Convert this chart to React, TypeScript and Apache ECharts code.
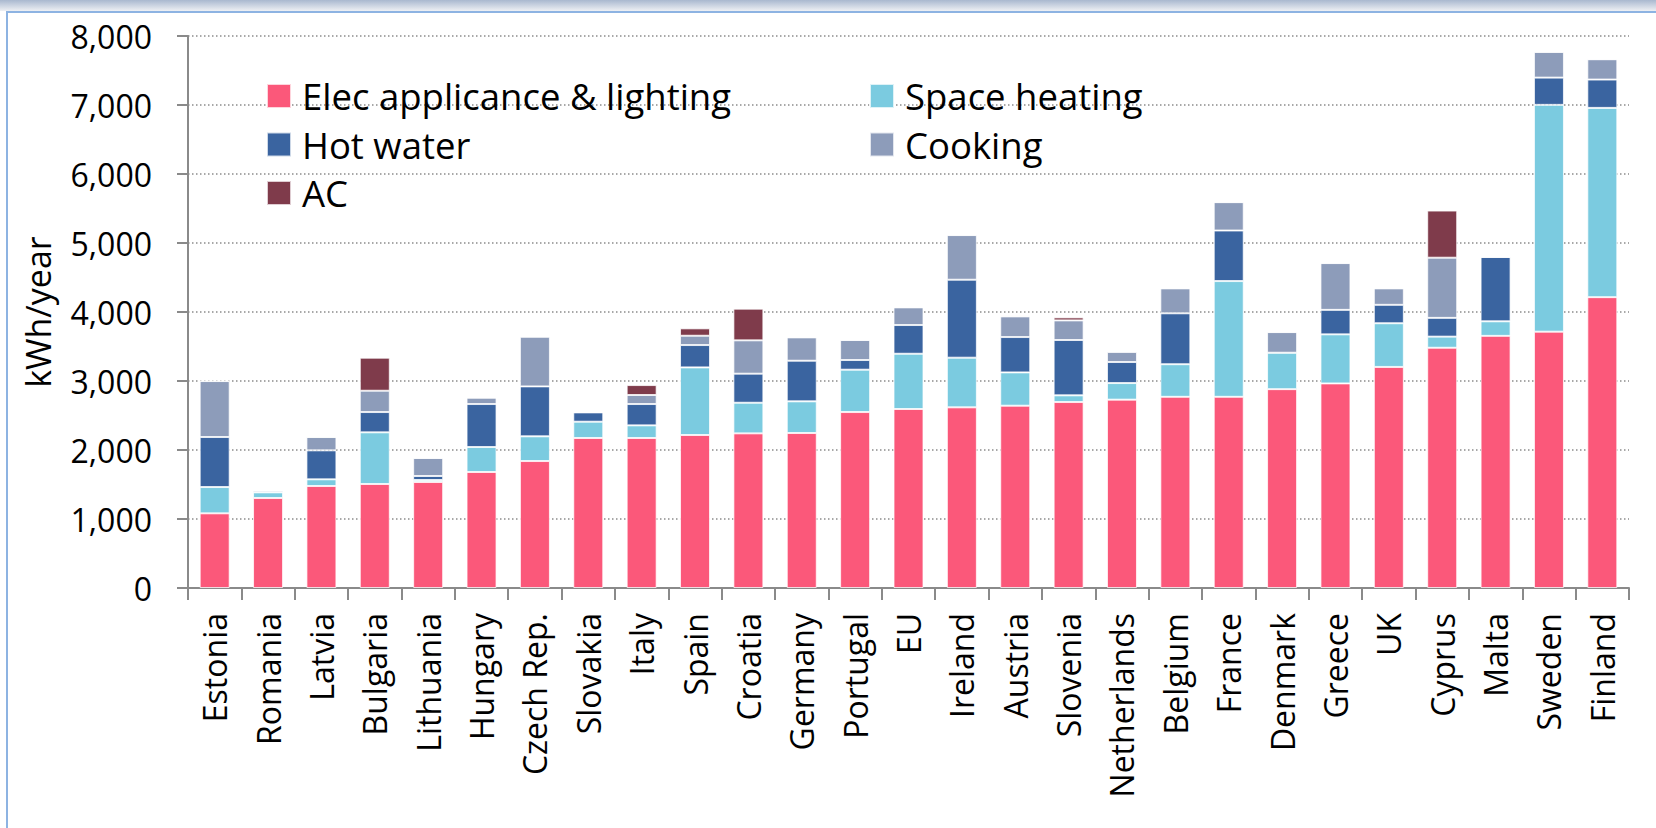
import React, { useEffect, useRef } from "react";
import * as echarts from "echarts";

const categories = [
  "Estonia", "Romania", "Latvia", "Bulgaria", "Lithuania", "Hungary", "Czech Rep.",
  "Slovakia", "Italy", "Spain", "Croatia", "Germany", "Portugal", "EU", "Ireland",
  "Austria", "Slovenia", "Netherlands", "Belgium", "France", "Denmark", "Greece",
  "UK", "Cyprus", "Malta", "Sweden", "Finland",
];

const elecLighting = [1082, 1304, 1478, 1507, 1536, 1681, 1840, 2174, 2174, 2217, 2241, 2246, 2550, 2594, 2618, 2642, 2695, 2730, 2771, 2771, 2882, 2965, 3204, 3482, 3654, 3715, 4215];
const spaceHeating = [381, 82, 97, 749, 29, 362, 358, 236, 183, 980, 444, 459, 614, 801, 720, 483, 97, 240, 472, 1677, 528, 711, 633, 161, 211, 3287, 2743];
const hotWater = [725, 24, 420, 294, 58, 623, 724, 135, 309, 324, 421, 589, 140, 416, 1130, 512, 802, 305, 738, 733, 0, 355, 267, 272, 933, 395, 411];
const cooking = [811, 0, 193, 309, 261, 92, 720, 0, 131, 135, 483, 338, 290, 256, 647, 299, 284, 145, 361, 411, 299, 678, 238, 872, 0, 372, 294];
const ac = [0, 0, 0, 479, 0, 0, 0, 0, 144, 107, 459, 0, 0, 0, 0, 15, 44, 15, 0, 0, 0, 0, 0, 683, 0, 0, 0];

const seriesNames = ["Elec applicance & lighting", "Space heating", "Hot water", "Cooking", "AC"];
const seriesColors = ["#FB587A", "#7BCBE0", "#3A64A0", "#8D9CBA", "#7F3B4B"];
const seriesValues = [elecLighting, spaceHeating, hotWater, cooking, ac];

const yTicks = { min: 0, max: 8000, interval: 1000 };
const yAxisName = "kWh/year";

const FONT = "'Open Sans', sans-serif";

export default function App() {
  const ref = useRef<HTMLDivElement>(null);

  useEffect(() => {
    if (!ref.current) return;
    const chart = echarts.init(ref.current, undefined, { renderer: "svg" });

    const legendCommon = {
      orient: "vertical" as const,
      top: 76,
      padding: 0,
      itemWidth: 24,
      itemHeight: 24,
      itemGap: 8.5,
      icon: "rect",
      textStyle: {
        fontFamily: FONT,
        fontSize: 36.5,
        color: "#000",
        lineHeight: 40,
        padding: [0, 0, 0, 6],
      },
    };

    chart.setOption({
      animation: false,
      backgroundColor: "#fff",
      graphic: [
        {
          type: "rect",
          shape: { x: 0, y: 0, width: 1656, height: 11 },
          style: {
            fill: new echarts.graphic.LinearGradient(0, 0, 0, 1, [
              { offset: 0, color: "#a9b8cf" },
              { offset: 1, color: "#eef0f4" },
            ]),
          },
          silent: true,
          z: -10,
        },
        {
          type: "rect",
          shape: { x: 7, y: 12, width: 1700, height: 900 },
          style: { fill: "none", stroke: "#8DB3E2", lineWidth: 2 },
          silent: true,
          z: -10,
        },
      ],
      legend: [
        { ...legendCommon, left: 266, data: [seriesNames[0], seriesNames[2], seriesNames[4]] },
        { ...legendCommon, left: 869, data: [seriesNames[1], seriesNames[3]] },
      ],
      grid: { left: 188, right: 27, top: 36, bottom: 240, containLabel: false },
      xAxis: {
        type: "category",
        data: categories,
        boundaryGap: true,
        axisLine: { show: true, lineStyle: { color: "#8a8a8a", width: 2 } },
        axisTick: { show: true, length: 12, lineStyle: { color: "#8a8a8a", width: 2 } },
        axisLabel: {
          rotate: 90,
          margin: 25,
          interval: 0,
          fontFamily: FONT,
          fontSize: 32,
          color: "#000",
        },
      },
      yAxis: {
        type: "value",
        min: yTicks.min,
        max: yTicks.max,
        interval: yTicks.interval,
        name: yAxisName,
        nameLocation: "middle",
        nameGap: 133,
        nameRotate: 90,
        nameTextStyle: { fontFamily: FONT, fontSize: 34, color: "#000" },
        axisLine: { show: true, lineStyle: { color: "#8a8a8a", width: 2 } },
        axisTick: { show: true, length: 11, lineStyle: { color: "#8a8a8a", width: 2 } },
        axisLabel: {
          margin: 36,
          fontFamily: FONT,
          fontSize: 32,
          color: "#000",
          formatter: (v: number) => v.toLocaleString("en-US"),
        },
        splitLine: {
          show: true,
          lineStyle: { color: "#8c8c8c", width: 1.5, type: [1.5, 2.5] },
        },
      },
      series: seriesNames.map((name, i) => ({
        name,
        type: "bar",
        stack: "total",
        barWidth: 30,
        data: seriesValues[i],
        itemStyle: {
          color: seriesColors[i],
          borderColor: "rgba(255,255,255,0.75)",
          borderWidth: 1,
        },
      })),
    });

    return () => chart.dispose();
  }, []);

  return (
    <div
      ref={ref}
      style={{ position: "fixed", left: 0, top: 0, width: 1656, height: 828 }}
    />
  );
}
